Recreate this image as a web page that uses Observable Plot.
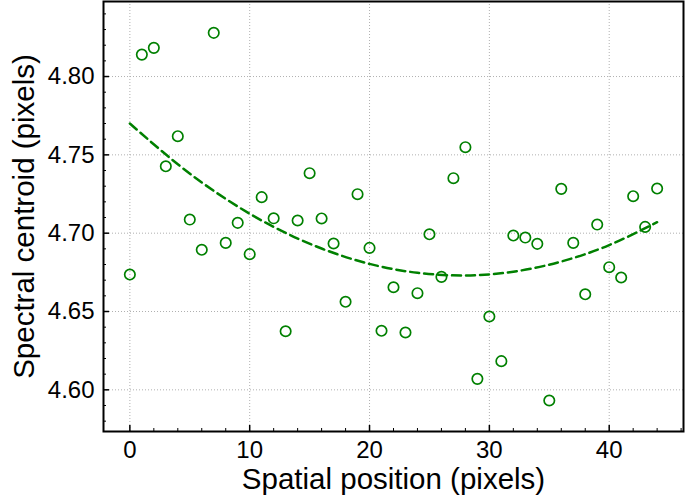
<!DOCTYPE html>
<html>
<head>
<meta charset="utf-8">
<script src="https://cdn.jsdelivr.net/npm/d3@7"></script>
<script src="https://cdn.jsdelivr.net/npm/@observablehq/plot@0.6"></script>
<style>
  html, body { margin: 0; padding: 0; background: #fff; }
  #chart svg { display: block; }
</style>
</head>
<body>
<div id="chart"></div>
<script>
// Spatial positions (pixels)
const positions = [0,1,2,3,4,5,6,7,8,9,10,11,12,13,14,15,16,17,18,19,20,21,22,23,24,25,26,27,28,29,30,31,32,33,34,35,36,37,38,39,40,41,42,43,44];
// Spectral centroid (pixels)
const centroids = [4.6736,4.8140,4.8183,4.7427,4.7619,4.7087,4.6894,4.8279,4.6938,4.7066,
  4.6866,4.7230,4.7095,4.6374,4.7081,4.7383,4.7094,4.6934,4.6562,4.7249,
  4.6906,4.6377,4.6655,4.6366,4.6617,4.6993,4.6721,4.7351,4.7549,4.6070,
  4.6468,4.6183,4.6985,4.6972,4.6932,4.5932,4.7283,4.6938,4.6610,4.7055,
  4.6783,4.6717,4.7236,4.7040,4.7285];
// Fitted trend curve
const fitX = [0,4,8,12,16,20,24,28,32,36,40,44];
const fitY = [4.7700,4.7440,4.7219,4.7040,4.6902,4.6804,4.6747,4.6730,4.6754,4.6819,4.6924,4.7070];
// Ticks
const xMajor = [0,10,20,30,40];
const xMinor = [2,4,6,8,12,14,16,18,22,24,26,28,32,34,36,38,42,44,46];
const yMajor = [4.60,4.65,4.70,4.75,4.80];
const yMinor = [4.58,4.59,4.61,4.62,4.63,4.64,4.66,4.67,4.68,4.69,4.71,4.72,4.73,4.74,4.76,4.77,4.78,4.79,4.81,4.82,4.83,4.84];
const xTitle = "Spatial position (pixels)";
const yTitle = "Spectral centroid (pixels)";

const points = positions.map((x, i) => ({x, y: centroids[i]}));
const fit = fitX.map((x, i) => ({x, y: fitY[i]}));

const green = "#008000";
const font = "'Liberation Sans', Arial, Helvetica, sans-serif";

const chart = Plot.plot({
  width: 694,
  height: 501,
  marginLeft: 103,
  marginRight: 11,
  marginTop: 1,
  marginBottom: 70,
  style: {fontFamily: font, background: "#fff", color: "#000"},
  x: {domain: [-2.2, 46.2], axis: null},
  y: {domain: [4.5734, 4.8479], axis: null},
  marks: [
    Plot.gridX(xMajor, {stroke: "#b0b0b0", strokeOpacity: 1, strokeDasharray: "1,2", strokeWidth: 1}),
    Plot.gridY(yMajor, {stroke: "#b0b0b0", strokeOpacity: 1, strokeDasharray: "1,2", strokeWidth: 1}),
    Plot.line(fit, {x: "x", y: "y", curve: "natural", stroke: green, strokeWidth: 2.5, strokeDasharray: "9,5"}),
    Plot.dot(points, {x: "x", y: "y", r: 5.2, stroke: green, strokeWidth: 1.7, fill: "none"}),
    Plot.axisX({ticks: xMajor, tickSize: 0, tickPadding: 9, fontSize: 24, label: null}),
    Plot.axisX({ticks: xMajor, tickSize: -6, text: null, label: null, strokeWidth: 1.5}),
    Plot.axisX({ticks: xMinor.filter(v => v > -2.2 && v < 46.2), tickSize: -3, text: null, label: null}),
    Plot.axisY({ticks: yMajor, tickSize: 0, tickPadding: 9, tickFormat: ".2f", fontSize: 24, label: null}),
    Plot.axisY({ticks: yMajor, tickSize: -6, text: null, label: null, strokeWidth: 1.5}),
    Plot.axisY({ticks: yMinor.filter(v => v > 4.5734 && v < 4.8479), tickSize: -3, text: null, label: null}),
    Plot.frame({stroke: "#000", strokeWidth: 2}),
    Plot.text([xTitle], {frameAnchor: "bottom", textAnchor: "middle", lineAnchor: "middle", dy: 47.6, fontSize: 29.5, fill: "#000"}),
    Plot.text([yTitle], {frameAnchor: "left", textAnchor: "middle", lineAnchor: "middle", dx: -79.4, rotate: -90, fontSize: 29.5, fill: "#000"})
  ]
});
document.getElementById("chart").appendChild(chart);
</script>
</body>
</html>
